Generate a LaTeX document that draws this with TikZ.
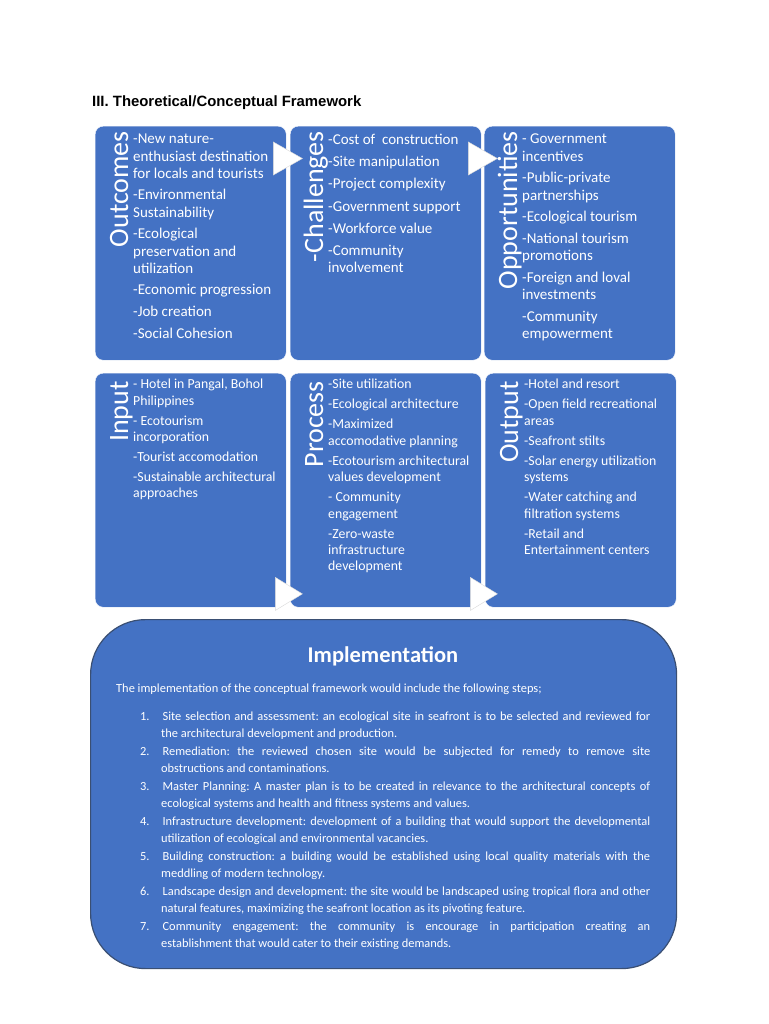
\documentclass[tikz,border=0pt]{standalone}
\usepackage{fontspec}
\setmainfont{Carlito}
\newfontfamily\headfont{Liberation Sans}
\usepackage{enumitem}
\usetikzlibrary{positioning}
\definecolor{boxblue}{HTML}{4472C4}
\definecolor{rimblue}{HTML}{3A4F73}

\begin{document}
\begin{tikzpicture}[x=1pt,y=-1pt,
  box/.style={draw=white,fill=boxblue,rounded corners=8pt,minimum width=191pt,minimum height=234pt,anchor=north west,inner sep=0pt},
  lbl/.style={text=white,rotate=90,anchor=base east,inner sep=0pt,font=\fontsize{28}{30}\selectfont},
  txt/.style={text=white,anchor=north west,inner sep=0pt,align=left,font=\fontsize{15}{17.2}\selectfont},
  txtb/.style={txt,font=\fontsize{13.8}{16.3}\selectfont},
  tri/.style={fill=white,draw=black!15,line width=0.4pt}]
\useasboundingbox[fill=white] (0,0) rectangle (768,1024);

\node[anchor=base west,inner sep=0pt,font=\headfont\bfseries\fontsize{14.9}{17}\selectfont] (title) at (92,107) {III. Theoretical/Conceptual Framework};

% top row
\node[box] (outc) at (95,126) {};
\node[box] (chal) at (290,126) {};
\node[box] (opp) at (484,126) {};
\node[lbl] (outcL) at ([shift={(33,5)}]outc.north west) {Outcomes};
\node[lbl] (chalL) at ([shift={(33,5)}]chal.north west) {-Challenges};
\node[lbl] (oppL) at ([shift={(33,5)}]opp.north west) {Opportunities};
\node[txt] (outcT) at ([shift={(38,8)}]outc.north west) {-New nature-\\enthusiast destination\\for locals and tourists\\[4.5pt]-Environmental\\Sustainability\\[4.5pt]-Ecological\\preservation and\\utilization\\[4.5pt]-Economic progression\\[4.5pt]-Job creation\\[4.5pt]-Social Cohesion};
\node[txt] (chalT) at ([shift={(38,8)}]chal.north west) {-Cost of~ construction\\[5pt]-Site manipulation\\[5pt]-Project complexity\\[5pt]-Government support\\[5pt]-Workforce value\\[5pt]-Community\\involvement};
\node[txt] (oppT) at ([shift={(38,8)}]opp.north west) {- Government\\incentives\\[4.5pt]-Public-private\\partnerships\\[4.5pt]-Ecological tourism\\[4.5pt]-National tourism\\promotions\\[4.5pt]-Foreign and loval\\investments\\[4.5pt]-Community\\empowerment};
\filldraw[tri] ([shift={(-13,16)}]outc.north east) -- ++(0,33) -- ++(29,-16.5) -- cycle;
\filldraw[tri] ([shift={(-13,16)}]chal.north east) -- ++(0,33) -- ++(29,-16.5) -- cycle;

% bottom row
\node[box] (inp) at (95,373) {};
\node[box] (proc) at (290,373) {};
\node[box] (outp) at (485,373) {};
\node[lbl] (inpL) at ([shift={(33,8)}]inp.north west) {Input};
\node[lbl] (procL) at ([shift={(33,8)}]proc.north west) {Process};
\node[lbl] (outpL) at ([shift={(33,8)}]outp.north west) {Output};
\node[txtb] (inpT) at ([shift={(38,6)}]inp.north west) {- Hotel in Pangal, Bohol\\Philippines\\[3.8pt]- Ecotourism\\incorporation\\[3.8pt]-Tourist accomodation\\[3.8pt]-Sustainable architectural\\approaches};
\node[txtb] (procT) at ([shift={(38,6)}]proc.north west) {-Site utilization\\[3.8pt]-Ecological architecture\\[3.8pt]-Maximized\\accomodative planning\\[3.8pt]-Ecotourism architectural\\values development\\[3.8pt]- Community\\engagement\\[3.8pt]-Zero-waste\\infrastructure\\development};
\node[txtb] (outpT) at ([shift={(39,6)}]outp.north west) {-Hotel and resort\\[3.8pt]-Open field recreational\\areas\\[3.8pt]-Seafront stilts\\[3.8pt]-Solar energy utilization\\systems\\[3.8pt]-Water catching and\\filtration systems\\[3.8pt]-Retail and\\Entertainment centers};
\filldraw[tri] ([shift={(-11,-30)}]inp.south east) -- ++(0,33) -- ++(27,-16.5) -- cycle;
\filldraw[tri] ([shift={(-11,-30)}]proc.south east) -- ++(0,33) -- ++(27,-16.5) -- cycle;

% implementation
\node[draw=rimblue,line width=1.2pt,fill=boxblue,rounded corners=55pt,minimum width=586pt,minimum height=349pt,anchor=north west] (impl) at (90,619) {};
\node[text=white,font=\bfseries\fontsize{22.5}{25}\selectfont] (implT) at (383,656) {Implementation};
\node[text=white,anchor=west,inner sep=0pt,font=\fontsize{12.4}{16.6}\selectfont] (intro) at (116,689) {The implementation of the conceptual framework would include the following steps;};
\node[text=white,anchor=north west,inner sep=0pt,font=\fontsize{12.4}{16.6}\selectfont] (steps) at (140,712) {%
\begin{minipage}{510pt}\frenchspacing\hyphenpenalty=10000\exhyphenpenalty=10000\emergencystretch=20pt
\begin{enumerate}[leftmargin=21pt,labelsep=13pt,labelwidth=8pt,align=left,topsep=0pt,partopsep=0pt,parsep=0pt,itemsep=1.8pt]
\item Site selection and assessment: an ecological site in seafront is to be selected and reviewed for\linebreak the architectural development and production.
\item Remediation: the reviewed chosen site would be subjected for remedy to remove site\linebreak obstructions and contaminations.
\item Master Planning: A master plan is to be created in relevance to the architectural concepts of\linebreak ecological systems and health and fitness systems and values.
\item Infrastructure development: development of a building that would support the developmental\linebreak utilization of ecological and environmental vacancies.
\item Building construction: a building would be established using local quality materials with the\linebreak meddling of modern technology.
\item Landscape design and development: the site would be landscaped using tropical flora and other\linebreak natural features, maximizing the seafront location as its pivoting feature.
\item Community engagement: the community is encourage in participation creating an\linebreak establishment that would cater to their existing demands.
\end{enumerate}
\end{minipage}};
\end{tikzpicture}
\end{document}
